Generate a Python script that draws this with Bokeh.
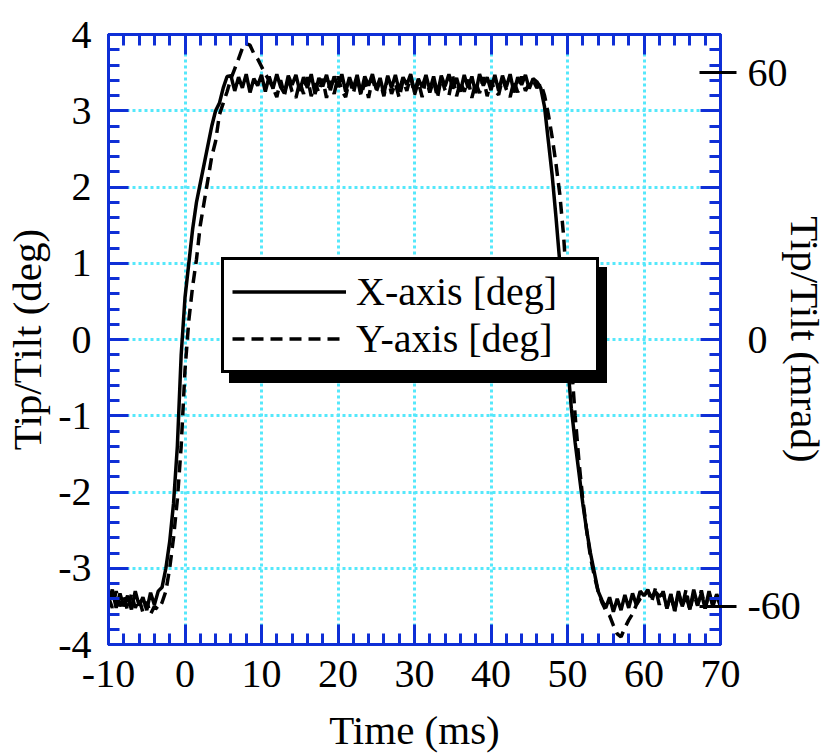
import numpy as np
from bokeh.plotting import figure
from bokeh.models import (Range1d, LinearAxis, SingleIntervalTicker, FixedTicker,
                          Legend, LegendItem, PrintfTickFormatter)
from bokeh.embed import file_html
from bokeh.resources import INLINE

# ---------------- data ----------------
# sample times in ms: every 0.5 ms from -10 to 70
time_ms = np.arange(-10.0, 70.0001, 0.5)

# X-axis [deg] (solid)
x_base = [-3.45, -3.28, -3.52, -3.33, -3.50, -3.36, -3.54, -3.30, -3.49, -3.38,
          -3.55, -3.32, -3.48, -3.30]
x_rise = [-3.25, -3.0, -2.65, -2.15, -1.4, -0.2, 0.55, 1.0, 1.45, 1.8, 2.05, 2.3,
          2.55, 2.8, 3.0, 3.1, 3.3, 3.45]
x_top = [3.46, 3.26, 3.44, 3.30, 3.48, 3.24, 3.42, 3.33, 3.47, 3.25,
         3.45, 3.29, 3.48, 3.31, 3.23, 3.46, 3.34, 3.47, 3.26, 3.44,
         3.30, 3.48, 3.22, 3.43, 3.32, 3.47, 3.27, 3.45, 3.31, 3.48,
         3.25, 3.44, 3.29, 3.47, 3.23, 3.45, 3.33, 3.48, 3.28, 3.43,
         3.22, 3.46, 3.30, 3.47, 3.26, 3.44, 3.34, 3.48, 3.24, 3.42,
         3.31, 3.47, 3.27, 3.45, 3.22, 3.46, 3.32, 3.48, 3.29, 3.43,
         3.25, 3.47, 3.30, 3.45, 3.23, 3.48, 3.33, 3.44, 3.27, 3.47,
         3.26, 3.46, 3.31, 3.48, 3.24, 3.44, 3.34, 3.47, 3.29, 3.42,
         3.38, 3.30]
x_fall = [3.05, 2.6, 2.15, 1.6, 1.0, 0.35, -0.3, -0.9, -1.35, -1.75, -2.15, -2.5,
          -2.8, -3.05, -3.3, -3.42]
x_tail = [-3.52, -3.38, -3.57, -3.40, -3.55, -3.35, -3.52, -3.33, -3.48, -3.30,
          -3.36, -3.30, -3.38, -3.31, -3.37, -3.32, -3.52, -3.34, -3.56, -3.30,
          -3.50, -3.36, -3.54, -3.28, -3.48, -3.33, -3.53, -3.30, -3.50, -3.34,
          -3.46]

# Y-axis [deg] (dashed)
y_base = [-3.38, -3.52, -3.30, -3.50, -3.36, -3.56, -3.34, -3.52, -3.40, -3.58,
          -3.44, -3.60, -3.50, -3.54]
y_rise = [-3.45, -3.30, -3.0, -2.6, -2.1, -1.4, -0.4, 0.25, 0.7, 1.05, 1.5, 1.8,
          2.1, 2.4, 2.6, 2.95, 3.1, 3.25, 3.42, 3.55, 3.68, 3.82, 3.88, 3.86,
          3.75, 3.68, 3.58, 3.48, 3.40]
y_top = [3.30, 3.18, 3.40, 3.21, 3.43, 3.25, 3.17, 3.38, 3.22, 3.44,
         3.19, 3.36, 3.24, 3.42, 3.17, 3.39, 3.22, 3.45, 3.26, 3.18,
         3.41, 3.23, 3.43, 3.20, 3.37, 3.17, 3.42, 3.25, 3.39, 3.19,
         3.44, 3.22, 3.36, 3.17, 3.40, 3.26, 3.45, 3.21, 3.38, 3.18,
         3.42, 3.24, 3.40, 3.17, 3.43, 3.27, 3.20, 3.45, 3.19, 3.38,
         3.25, 3.41, 3.17, 3.37, 3.23, 3.44, 3.19, 3.40, 3.26, 3.21,
         3.42, 3.28, 3.18, 3.39, 3.24, 3.45, 3.26, 3.36, 3.40, 3.30,
         3.36]
y_fall = [3.2, 2.95, 2.65, 2.3, 1.9, 1.35, 0.55, -0.3, -1.0, -1.6, -2.1, -2.5,
          -2.85, -3.1, -3.3, -3.45, -3.55, -3.62, -3.75, -3.86, -3.9, -3.78,
          -3.68, -3.6, -3.48, -3.40]
y_tail = [-3.36, -3.28, -3.44, -3.26, -3.48, -3.30, -3.53, -3.34, -3.57, -3.32,
          -3.50, -3.28, -3.55, -3.33, -3.49, -3.29, -3.53, -3.33, -3.48, -3.36,
          -3.50]

x_deg = x_base + x_rise + x_top + x_fall + x_tail
y_deg = y_base + y_rise + y_top + y_fall + y_tail
assert len(x_deg) == len(time_ms) and len(y_deg) == len(time_ms)

labels = ["X-axis [deg]", "Y-axis [deg]"]
mrad_ticks = [-60, 0, 60]

# ---------------- styling ----------------
BLUE = "#0f2fd6"
CYAN = "#55e8fb"
FONT = "Liberation Serif"
TICK_FS = "40px"
LABEL_FS = "41px"

p = figure(frame_width=612, frame_height=610,
           x_range=Range1d(-10, 70), y_range=Range1d(-4, 4),
           output_backend="svg", toolbar_location=None,
           min_border_left=108, min_border_right=106,
           min_border_top=34, min_border_bottom=108)
p.extra_y_ranges = {"mrad": Range1d(-68.6, 68.6)}

p.background_fill_color = "white"
p.border_fill_color = "white"
p.outline_line_color = BLUE
p.outline_line_width = 3

xticker = SingleIntervalTicker(interval=10, num_minor_ticks=5)
yticker = SingleIntervalTicker(interval=1, num_minor_ticks=5)
fmt = PrintfTickFormatter(format="%d")


def blue_ticks(ax):
    ax.axis_line_color = BLUE
    ax.axis_line_width = 3
    ax.major_tick_line_color = BLUE
    ax.major_tick_line_width = 3
    ax.minor_tick_line_color = BLUE
    ax.minor_tick_line_width = 3
    ax.major_tick_in = 20
    ax.major_tick_out = 0
    ax.minor_tick_in = 11
    ax.minor_tick_out = 0
    ax.formatter = fmt
    ax.major_label_text_font = FONT
    ax.major_label_text_font_size = TICK_FS
    ax.major_label_text_color = "black"
    ax.axis_label_text_font = FONT
    ax.axis_label_text_font_size = LABEL_FS
    ax.axis_label_text_font_style = "normal"
    ax.axis_label_text_color = "black"


p.xaxis.ticker = xticker
p.yaxis.ticker = yticker
blue_ticks(p.xaxis[0])
blue_ticks(p.yaxis[0])
p.xaxis.major_label_standoff = 16
p.xaxis.axis_label = "Time (ms)"
p.xaxis.axis_label_standoff = 17
p.yaxis.major_label_standoff = 17
p.yaxis.axis_label = "Tip/Tilt (deg)"
p.yaxis.axis_label_standoff = 5

# top axis (ticks only)
top = LinearAxis(ticker=xticker)
blue_ticks(top)
top.major_label_text_font_size = "0px"
top.major_label_standoff = 0
p.add_layout(top, "above")

# right axis, blue ticks only
rin = LinearAxis(ticker=yticker)
blue_ticks(rin)
rin.major_label_text_font_size = "0px"
rin.major_label_standoff = 0
p.add_layout(rin, "right")

# mrad black ticks at +/-60
rtk = LinearAxis(y_range_name="mrad", ticker=FixedTicker(ticks=[-60, 60], minor_ticks=[]))
rtk.axis_line_color = None
rtk.major_tick_line_color = "black"
rtk.major_tick_line_width = 3
rtk.major_tick_in = 21
rtk.major_tick_out = 16
rtk.minor_tick_line_color = None
rtk.major_label_text_font_size = "0px"
rtk.major_label_standoff = 0
p.add_layout(rtk, "right")

# mrad labels and title
rlab = LinearAxis(y_range_name="mrad", ticker=FixedTicker(ticks=mrad_ticks, minor_ticks=[]))
rlab.formatter = fmt
rlab.axis_line_color = None
rlab.major_tick_line_color = None
rlab.minor_tick_line_color = None
rlab.major_tick_in = 0
rlab.major_tick_out = 0
rlab.major_label_standoff = 11
rlab.major_label_text_font = FONT
rlab.major_label_text_font_size = TICK_FS
rlab.major_label_text_color = "black"
rlab.axis_label = "Tip/Tilt (mrad)"
rlab.axis_label_text_font = FONT
rlab.axis_label_text_font_size = LABEL_FS
rlab.axis_label_text_font_style = "normal"
rlab.axis_label_text_color = "black"
rlab.axis_label_standoff = -22
p.add_layout(rlab, "right")

# grid
p.xgrid.ticker = FixedTicker(ticks=[0, 10, 20, 30, 40, 50, 60])
p.ygrid.ticker = yticker
for g in (p.xgrid[0], p.ygrid[0]):
    g.grid_line_color = CYAN
    g.grid_line_width = 3
    g.grid_line_dash = "3 3"

# data
r1 = p.line(time_ms, x_deg, line_color="black", line_width=3.5)
r2 = p.line(time_ms, y_deg, line_color="black", line_width=3.5, line_dash="12 7")


def make_legend(loc, fill, text_alpha):
    lg = Legend(items=[LegendItem(label=labels[0], renderers=[r1]),
                       LegendItem(label=labels[1], renderers=[r2])],
                location=loc)
    lg.background_fill_color = fill
    lg.background_fill_alpha = 1.0
    lg.border_line_color = "black"
    lg.border_line_alpha = 1.0
    lg.border_line_width = 3
    lg.label_text_font = FONT
    lg.label_text_font_size = "40px"
    lg.label_text_color = "black"
    lg.label_text_alpha = text_alpha
    lg.glyph_width = 114
    lg.glyph_height = 35
    lg.label_standoff = 10
    lg.label_width = 232
    lg.padding = 8
    lg.spacing = 0
    lg.margin = 0
    return lg


shadow = make_legend((121, 261), "black", 0.0)
legend = make_legend((113, 271), "white", 1.0)
p.add_layout(shadow, "center")
p.add_layout(legend, "center")

open("out.html", "w").write(file_html(p, INLINE))
